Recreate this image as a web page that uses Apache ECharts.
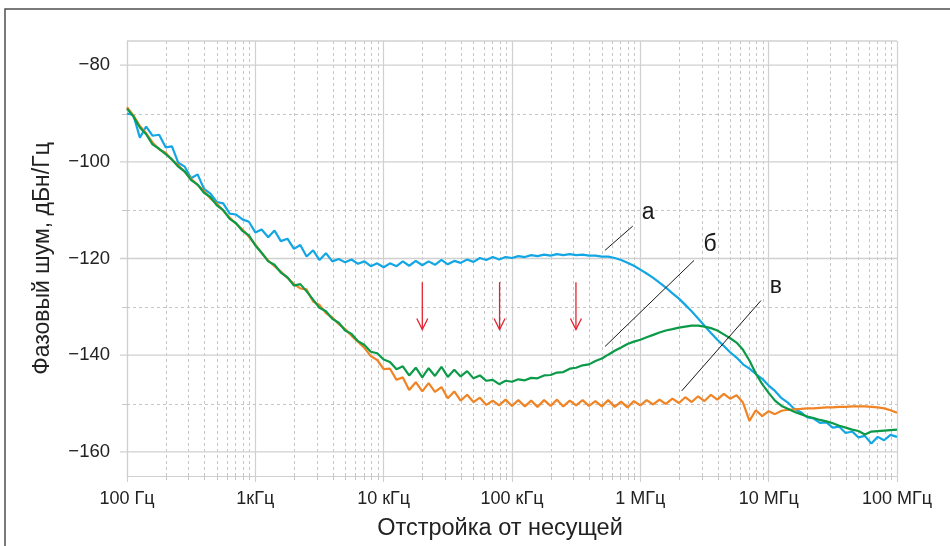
<!DOCTYPE html>
<html><head><meta charset="utf-8">
<script src="https://cdn.jsdelivr.net/npm/echarts@6/dist/echarts.min.js"></script>
<style>html,body{margin:0;padding:0;background:#fff}#c{width:950px;height:546px}</style>
</head><body><div id="c"></div>
<script>
// ---- data ----
const freqHz = [
 100,112,126,141,158,178,200,224,251,282,316,355,398,447,501,562,631,708,794,891,
 1e3,1.12e3,1.26e3,1.41e3,1.58e3,1.78e3,2e3,2.24e3,2.51e3,2.82e3,3.16e3,3.55e3,3.98e3,4.47e3,5.01e3,5.62e3,6.31e3,7.08e3,7.94e3,8.91e3,
 1e4,1.12e4,1.26e4,1.41e4,1.58e4,1.78e4,2e4,2.24e4,2.51e4,2.82e4,3.16e4,3.55e4,3.98e4,4.47e4,5.01e4,5.62e4,6.31e4,7.08e4,7.94e4,8.91e4,
 1e5,1.12e5,1.26e5,1.41e5,1.58e5,1.78e5,2e5,2.24e5,2.51e5,2.82e5,3.16e5,3.55e5,3.98e5,4.47e5,5.01e5,5.62e5,6.31e5,7.08e5,7.94e5,8.91e5,
 1e6,1.12e6,1.26e6,1.41e6,1.58e6,1.78e6,2e6,2.24e6,2.51e6,2.82e6,3.16e6,3.55e6,3.98e6,4.47e6,5.01e6,5.62e6,6.31e6,7.08e6,7.94e6,8.91e6,
 1e7,1.12e7,1.26e7,1.41e7,1.58e7,1.78e7,2e7,2.24e7,2.51e7,2.82e7,3.16e7,3.55e7,3.98e7,4.47e7,5.01e7,5.62e7,6.31e7,7.08e7,7.94e7,8.91e7,
 1e8];
// curve "а" (blue)
const noiseA = [
 -90.0,-90.3,-95.0,-92.7,-94.6,-94.4,-97.0,-96.8,-100.2,-101.0,-103.4,-102.6,-105.6,-106.6,-108.3,-108.6,-110.7,-110.9,-111.9,-112.4,
 -114.6,-114.0,-115.6,-114.2,-116.4,-115.9,-118.0,-117.2,-119.6,-118.3,-120.3,-118.9,-120.6,-120.1,-120.8,-120.2,-121.1,-120.6,-121.6,-121.0,
 -121.8,-121.0,-121.6,-120.6,-121.5,-120.5,-121.4,-120.6,-121.3,-120.3,-121.2,-120.5,-120.9,-120.2,-120.7,-119.9,-120.3,-119.7,-120.2,-119.7,
 -119.9,-119.5,-119.7,-119.3,-119.5,-119.2,-119.4,-119.1,-119.3,-119.1,-119.3,-119.2,-119.4,-119.4,-119.6,-119.6,-119.9,-120.3,-120.9,-121.5,
 -122.3,-123.1,-124.0,-125.0,-126.0,-127.2,-128.3,-129.6,-130.9,-132.4,-133.9,-135.4,-136.8,-138.1,-139.4,-140.5,-141.9,-142.8,-143.9,-144.9,
 -146.3,-147.4,-148.9,-149.8,-151.1,-151.8,-152.9,-153.1,-154.0,-153.9,-155.0,-154.8,-156.1,-155.8,-157.0,-156.7,-158.3,-156.9,-157.6,-156.5,
 -156.9];
// curve "б" (green)
const noiseB = [
 -89.0,-90.6,-92.9,-94.3,-96.4,-97.3,-98.4,-99.5,-101.0,-102.0,-103.8,-104.7,-106.4,-107.3,-109.0,-110.0,-111.8,-112.7,-114.3,-115.2,
 -117.3,-118.8,-120.6,-121.3,-122.9,-123.9,-125.6,-125.3,-126.8,-128.5,-130.2,-130.9,-132.5,-133.3,-134.9,-135.6,-137.1,-137.9,-139.3,-139.6,
 -140.9,-141.4,-142.9,-142.3,-144.2,-142.6,-144.6,-142.7,-144.3,-142.4,-144.5,-143.0,-144.4,-143.3,-144.8,-144.2,-145.3,-145.1,-146.0,-145.3,
 -145.5,-145.0,-145.2,-144.7,-144.8,-144.2,-144.1,-143.6,-143.5,-142.8,-142.6,-142.1,-141.9,-141.2,-140.7,-139.9,-139.1,-138.4,-137.7,-137.2,
 -136.8,-136.3,-135.8,-135.3,-134.9,-134.6,-134.3,-134.1,-133.9,-133.9,-134.1,-134.4,-134.9,-135.7,-136.5,-137.4,-138.9,-141.1,-143.8,-146.0,
 -147.8,-149.4,-150.5,-151.1,-151.7,-152.2,-152.7,-153.0,-153.4,-153.7,-154.1,-154.6,-155.0,-155.4,-155.7,-156.4,-155.8,-155.7,-155.6,-155.5,
 -155.4];
// curve "в" (orange)
const noiseV = [
 -88.7,-90.4,-92.6,-94.1,-96.0,-97.4,-98.1,-99.6,-100.7,-102.1,-103.5,-104.8,-106.0,-107.6,-108.6,-110.1,-111.5,-112.8,-114.0,-115.5,
 -117.1,-118.9,-120.4,-121.6,-122.7,-124.0,-125.3,-126.2,-126.4,-128.9,-129.6,-131.3,-132.2,-133.6,-134.6,-136.0,-137.2,-138.5,-140.2,-141.0,
 -142.9,-142.8,-145.1,-144.6,-147.2,-145.6,-147.5,-145.8,-147.6,-146.6,-148.9,-147.5,-149.4,-148.2,-149.7,-148.8,-150.3,-149.4,-150.4,-149.2,
 -150.5,-149.3,-150.6,-149.4,-150.7,-149.3,-150.5,-149.2,-150.6,-149.4,-150.4,-149.3,-150.5,-149.5,-150.6,-149.3,-150.7,-149.6,-150.8,-149.5,
 -150.4,-149.3,-150.2,-149.2,-150.1,-149.0,-149.9,-148.7,-149.7,-148.5,-149.5,-148.2,-149.2,-148.0,-149.0,-148.3,-149.8,-153.6,-151.4,-152.6,
 -151.6,-152.2,-151.5,-151.3,-151.2,-151.1,-151.0,-151.0,-150.9,-150.8,-150.8,-150.7,-150.7,-150.6,-150.6,-150.6,-150.7,-150.8,-151.0,-151.4,
 -151.9];

const xTickLabels = ['100 Гц','1кГц','10 кГц','100 кГц','1 МГц','10 МГц','100 МГц'];
const yMajorValues = [-160,-140,-120,-100,-80];
const yMinorValues = [-150,-130,-110,-90];
const minorMantissas = [2,3,4,5,6,7,8,9];
const decades = [1e2,1e3,1e4,1e5,1e6,1e7];
const arrowFreqs = [2.0e4, 8.0e4, 3.15e5];
const arrowTop = -124.9, arrowTip = -134.7;
const leaderLines = [
  [[5.31e5,-118.3],[8.73e5,-113.3]],
  [[5.31e5,-138.2],[2.62e6,-120.4]],
  [[2.10e6,-147.4],[8.71e6,-128.7]]
];
const curveLabels = [
  ['а', 1.153e6, -110.6],
  ['б', 3.49e6, -117.1],
  ['в', 1.14e7, -125.8]
];

// ---- chart ----
const X_MIN = 100, X_MAX = 1e8, Y_MIN = -165, Y_MAX = -75;
const FONT = "'Liberation Sans', Arial, sans-serif";
const GRID = '#d0d0d0', GRID_MINOR = '#c6c6c6';
const minorFreqs = [];
decades.forEach(d => minorMantissas.forEach(m => minorFreqs.push(d * m)));
const pairs = arr => freqHz.map((f, i) => [f, arr[i]]);

const chart = echarts.init(document.getElementById('c'), null, {renderer: 'canvas'});
chart.setOption({
  animation: false,
  backgroundColor: '#fff',
  textStyle: {fontFamily: FONT},
  graphic: [{type: 'rect', silent: true, z: -10,
    shape: {x: 5, y: 9, width: 1000, height: 600},
    style: {fill: 'none', stroke: '#4f4f4f', lineWidth: 1.5}}],
  grid: {left: 127, right: 53, top: 41, bottom: 69},
  xAxis: {
    type: 'log', logBase: 10, min: X_MIN, max: X_MAX,
    axisLine: {lineStyle: {color: GRID, width: 1.2}},
    axisTick: {length: 6, lineStyle: {color: GRID, width: 1.2}},
    splitLine: {show: true, lineStyle: {color: GRID, width: 1.2}},
    axisLabel: {margin: 14, fontSize: 18, color: '#222', fontFamily: FONT,
      formatter: v => { const k = Math.round(Math.log10(v)) - 2; return xTickLabels[k] || ''; }},
    name: 'Отстройка от несущей', nameLocation: 'middle', nameGap: 41,
    nameTextStyle: {fontSize: 23.5, color: '#222', fontFamily: FONT, padding: [0, 24, 0, 0]}
  },
  yAxis: {
    type: 'value', min: Y_MIN, max: Y_MAX, interval: 5,
    axisLine: {show: true, lineStyle: {color: GRID, width: 1.2}},
    axisTick: {show: false},
    splitLine: {show: false},
    axisLabel: {margin: 17, fontSize: 18.5, color: '#222', fontFamily: FONT,
      formatter: v => yMajorValues.indexOf(v) >= 0 ? '\u2212' + Math.abs(v) : ''},
    name: 'Фазовый шум, дБн/Гц', nameLocation: 'middle', nameGap: 73, nameRotate: 90,
    nameTextStyle: {fontSize: 23, color: '#222', fontFamily: FONT}
  },
  series: [
    { // vertical minor grid + minor ticks
      type: 'custom', silent: true, clip: false, z: 1,
      data: minorFreqs.map(f => [f, Y_MIN]),
      encode: {x: 0, y: 1},
      renderItem: (params, api) => {
        const f = api.value(0);
        const t = api.coord([f, Y_MAX]), b = api.coord([f, Y_MIN]);
        const x = Math.round(t[0]) + 0.5;
        return {type: 'group', children: [
          {type: 'line', shape: {x1: x, y1: t[1], x2: x, y2: b[1]}, style: {stroke: GRID_MINOR, lineWidth: 1, lineDash: [3, 3]}},
          {type: 'line', shape: {x1: x, y1: b[1], x2: x, y2: b[1] + 4}, style: {stroke: GRID_MINOR, lineWidth: 1}}
        ]};
      }
    },
    { // horizontal grid lines + y ticks
      type: 'custom', silent: true, clip: false, z: 1,
      data: yMajorValues.map(v => [X_MIN, v, 1]).concat(yMinorValues.map(v => [X_MIN, v, 0])).concat([[X_MIN, Y_MAX, 2]]),
      encode: {x: 0, y: 1},
      renderItem: (params, api) => {
        const v = api.value(1), kind = api.value(2);
        const l = api.coord([X_MIN, v]), r = api.coord([X_MAX, v]);
        const y = Math.round(l[1]) + 0.5;
        if (kind === 0) {
          return {type: 'group', children: [
            {type: 'line', shape: {x1: l[0], y1: y, x2: r[0], y2: y}, style: {stroke: GRID_MINOR, lineWidth: 1, lineDash: [3, 3]}},
            {type: 'line', shape: {x1: l[0] - 5, y1: y, x2: l[0], y2: y}, style: {stroke: GRID_MINOR, lineWidth: 1}}
          ]};
        }
        return {type: 'line', shape: {x1: l[0] - (kind === 1 ? 7 : 0), y1: l[1], x2: r[0], y2: l[1]},
          style: {stroke: GRID, lineWidth: 1.3}};
      }
    },
    {name: 'а', type: 'line', data: pairs(noiseA), showSymbol: false, z: 3,
      lineStyle: {color: '#13a6e4', width: 2.2}, itemStyle: {color: '#13a6e4'}},
    {name: 'в', type: 'line', data: pairs(noiseV), showSymbol: false, z: 4,
      lineStyle: {color: '#f08424', width: 2.2}, itemStyle: {color: '#f08424'}},
    {name: 'б', type: 'line', data: pairs(noiseB), showSymbol: false, z: 5,
      lineStyle: {color: '#0b9a48', width: 2.2}, itemStyle: {color: '#0b9a48'}},
    { // red arrows
      type: 'custom', silent: true, z: 6,
      data: arrowFreqs.map(f => [f, arrowTop, arrowTip]),
      encode: {x: 0, y: 1},
      renderItem: (params, api) => {
        const f = api.value(0);
        const a = api.coord([f, api.value(1)]), b = api.coord([f, api.value(2)]);
        const st = {stroke: '#e52330', lineWidth: 1.3, fill: 'none'};
        return {type: 'group', children: [
          {type: 'line', shape: {x1: a[0], y1: a[1], x2: b[0], y2: b[1]}, style: st},
          {type: 'polyline', shape: {points: [[b[0] - 5.5, b[1] - 11], [b[0], b[1]], [b[0] + 5.5, b[1] - 11]]}, style: st}
        ]};
      }
    },
    { // leader lines
      type: 'custom', silent: true, z: 6,
      data: leaderLines.map(s => [s[0][0], s[0][1], s[1][0], s[1][1]]),
      encode: {x: [0, 2], y: [1, 3]},
      renderItem: (params, api) => {
        const p = api.coord([api.value(0), api.value(1)]), q = api.coord([api.value(2), api.value(3)]);
        return {type: 'line', shape: {x1: p[0], y1: p[1], x2: q[0], y2: q[1]}, style: {stroke: '#1a1a1a', lineWidth: 1}};
      }
    },
    { // curve letters
      type: 'custom', silent: true, z: 6,
      data: curveLabels.map(c => [c[1], c[2], c[0]]),
      encode: {x: 0, y: 1},
      renderItem: (params, api) => {
        const p = api.coord([api.value(0), api.value(1)]);
        return {type: 'text', x: p[0], y: p[1], style: {text: curveLabels[params.dataIndex][0],
          fontSize: 23, fontFamily: FONT, fill: '#1a1a1a', align: 'center', verticalAlign: 'middle'}};
      }
    }
  ]
});
</script></body></html>
